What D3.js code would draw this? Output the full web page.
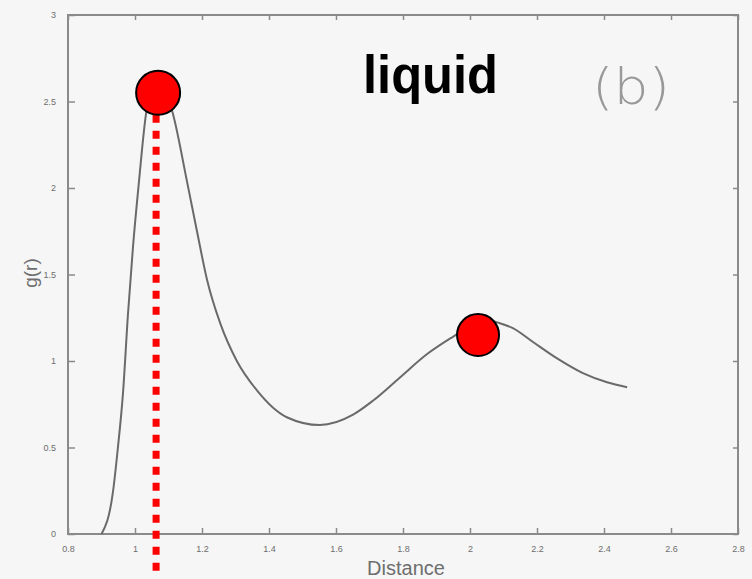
<!DOCTYPE html>
<html><head><meta charset="utf-8">
<script src="https://cdn.jsdelivr.net/npm/d3@7/dist/d3.min.js"></script>
<style>body{margin:0;background:#f6f6f6}svg{display:block}</style>
</head><body>
<script>
// Data
const distance = [0.90, 0.934, 0.949, 0.964, 0.979, 0.994, 1.012, 1.033, 1.05, 1.07, 1.09, 1.113, 1.155, 1.185, 1.215, 1.254, 1.304, 1.364, 1.453, 1.552, 1.651, 1.71, 1.791, 1.872, 1.949, 2.0, 2.06, 2.081, 2.128, 2.188, 2.26, 2.337, 2.409, 2.469];
const gr       = [0.00, 0.24, 0.50, 0.81, 1.27, 1.66, 2.04, 2.43, 2.57, 2.62, 2.57, 2.43, 2.04, 1.75, 1.47, 1.22, 1.00, 0.83, 0.675, 0.63, 0.69, 0.77, 0.905, 1.04, 1.14, 1.20, 1.235, 1.223, 1.19, 1.11, 1.015, 0.93, 0.877, 0.848];
const markerR  = [1.069, 2.024];
const markerG  = [2.55, 1.15];
const xTicks = [0.8, 1, 1.2, 1.4, 1.6, 1.8, 2, 2.2, 2.4, 2.6, 2.8];
const yTicks = [0, 0.5, 1, 1.5, 2, 2.5, 3];
const dropR = 1.063;

const W = 752, H = 579;
const svg = d3.select("body").append("svg").attr("width", W).attr("height", H);
svg.append("rect").attr("width", W).attr("height", H).attr("fill", "#f6f6f6");

const x = d3.scaleLinear().domain([0.8, 2.8]).range([68, 738]);
const y = d3.scaleLinear().domain([0, 3]).range([534, 15]);
const axisCol = "#8a8a8a";

// frame
svg.append("rect").attr("x", x(0.8)).attr("y", y(3)).attr("width", x(2.8) - x(0.8)).attr("height", y(0) - y(3))
  .attr("fill", "none").attr("stroke", axisCol).attr("stroke-width", 2);

function styleAxis(g) {
  g.select(".domain").remove();
  g.selectAll(".tick line").attr("stroke", axisCol).attr("stroke-width", 1.5);
  g.selectAll(".tick text").attr("fill", "#6e6e6e").style("font-family", "Liberation Sans, Arial, sans-serif").style("font-size", "9px");
}
svg.append("g").attr("transform", `translate(0,${y(0)})`)
  .call(d3.axisBottom(x).tickValues(xTicks).tickFormat(d3.format("")).tickSizeInner(-6).tickSizeOuter(0).tickPadding(12))
  .call(styleAxis);
svg.append("g").attr("transform", `translate(0,${y(3)})`)
  .call(d3.axisTop(x).tickValues(xTicks).tickFormat("").tickSizeInner(-5).tickSizeOuter(0))
  .call(styleAxis);
svg.append("g").attr("transform", `translate(${x(0.8)},0)`)
  .call(d3.axisLeft(y).tickValues(yTicks).tickFormat(d3.format("")).tickSizeInner(-7).tickSizeOuter(0).tickPadding(12))
  .call(styleAxis);
svg.append("g").attr("transform", `translate(${x(2.8)},0)`)
  .call(d3.axisRight(y).tickValues(yTicks).tickFormat("").tickSizeInner(-5).tickSizeOuter(0))
  .call(styleAxis);

// curve
const pts = distance.map((d, i) => [d, gr[i]]);
svg.append("path").datum(pts)
  .attr("d", d3.line().x(d => x(d[0])).y(d => y(d[1])).curve(d3.curveMonotoneX))
  .attr("fill", "none").attr("stroke", "#6a6a6a").attr("stroke-width", 2);

// labels
svg.append("text").attr("x", 406).attr("y", 575).attr("text-anchor", "middle")
  .attr("fill", "#6e6e6e").style("font-family", "Liberation Sans, Arial, sans-serif").style("font-size", "20px")
  .text("Distance");
svg.append("text").attr("transform", "translate(37,273) rotate(-90)").attr("text-anchor", "middle")
  .attr("fill", "#6e6e6e").style("font-family", "Liberation Sans, Arial, sans-serif").style("font-size", "19px")
  .text("g(r)");
svg.append("text").attr("x", 631).attr("y", 104).attr("text-anchor", "middle")
  .attr("fill", "#999").style("font-family", "DejaVu Sans, sans-serif").style("font-weight", "300").style("font-size", "50px")
  .attr("textLength", 78).attr("lengthAdjust", "spacingAndGlyphs")
  .text("(b)");
svg.append("text").attr("x", 363).attr("y", 93)
  .attr("fill", "#000").style("font-family", "Liberation Sans, Arial, sans-serif").style("font-weight", "bold").style("font-size", "54px")
  .attr("textLength", 135).attr("lengthAdjust", "spacingAndGlyphs")
  .text("liquid");

// dotted drop line
const rad = 22;
svg.append("line").attr("x1", x(dropR)).attr("x2", x(dropR))
  .attr("y1", y(markerG[0]) + rad).attr("y2", y(0) + 38)
  .attr("stroke", "#ff0000").attr("stroke-width", 7).attr("stroke-dasharray", "8,8");

// markers
svg.selectAll("circle.m").data(markerR).enter().append("circle").attr("class", "m")
  .attr("cx", d => x(d)).attr("cy", (d, i) => y(markerG[i])).attr("r", (d, i) => i === 0 ? 22 : 21)
  .attr("fill", "#ff0000").attr("stroke", "#000").attr("stroke-width", 2);
</script>
</body></html>
